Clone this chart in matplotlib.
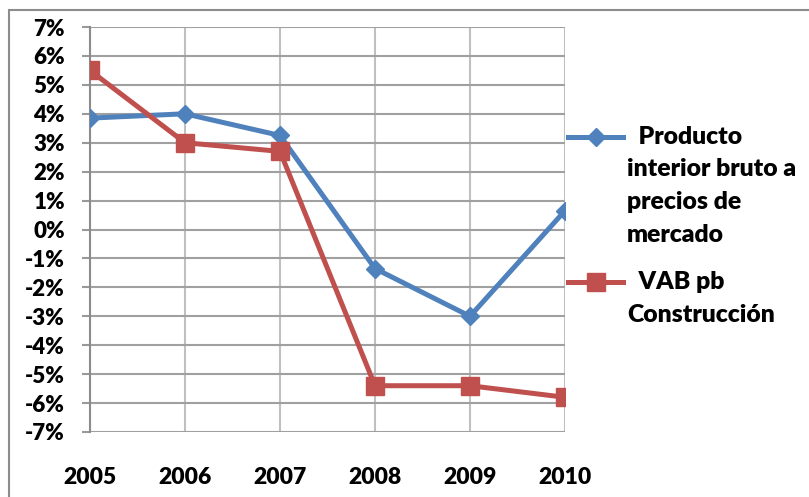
import numpy as np
import matplotlib
matplotlib.use('Agg')
import matplotlib.pyplot as plt
from matplotlib.lines import Line2D
from matplotlib.patches import Rectangle

# yearly growth rates (%)
years = ['2005', '2006', '2007', '2008', '2009', '2010']
pib = [3.85, 4.0, 3.25, -1.35, -3.0, 0.65]
vab_construccion = [5.5, 3.0, 2.7, -5.4, -5.4, -5.8]
yticks = list(range(-7, 8))

blue = '#4F81BD'
red = '#C0504D'
font = 'Lato'
weight = 'heavy'

W, H = 809, 497
fig = plt.figure(figsize=(W / 100, H / 100), dpi=100)
ax = fig.add_axes([90 / W, 1 - 432 / H, 475 / W, 405 / H])

x = np.arange(len(years))
ax.plot(x, pib, color=blue, lw=3.6, marker='D', ms=9, zorder=3)
ax.plot(x, vab_construccion, color=red, lw=3.6, marker='s', ms=13.5, zorder=3)

ax.set_xlim(0, len(years) - 1)
ax.set_ylim(-7, 7)
ax.set_yticks(yticks)
ax.set_yticklabels(['%d%%' % v for v in yticks], fontfamily=font,
                   fontweight=weight, fontsize=16)
ax.set_xticks(x)
ax.set_xticklabels(years, fontfamily=font, fontweight=weight, fontsize=16.5)
ax.tick_params(axis='y', direction='out', length=6, width=1.5,
               color='#999999', pad=12)
ax.tick_params(axis='x', length=0, pad=25)

ax.grid(axis='y', color='#a0a0a0', lw=1.5)
ax.grid(axis='x', color='#c0c0c0', lw=1.5)
ax.set_axisbelow(True)
for s in ['top', 'right', 'bottom']:
    ax.spines[s].set_visible(False)
ax.spines['left'].set_color('#8c8c8c')
ax.spines['left'].set_linewidth(1.5)

# outer chart border
fig.add_artist(Rectangle((9 / W, -0.1), 1.2, 1 - 10 / H + 0.1,
                         transform=fig.transFigure, fill=False,
                         edgecolor='#8c8c8c', lw=1.5))

# legend
def px(xp, yp):
    return xp / W, 1 - yp / H

entries = [
    (blue, 'D', 9, 137, ['  Producto', 'interior bruto a', 'precios de', 'mercado']),
    (red, 's', 13.5, 282, ['  VAB pb', 'Construcción']),
]
for color, mk, ms, ypos, lines in entries:
    x0, y0 = px(568, ypos)
    x1, _ = px(623, ypos)
    fig.add_artist(Line2D([x0, x1], [y0, y0], color=color, lw=3.6,
                          transform=fig.transFigure))
    fig.add_artist(Line2D([(x0 + x1) / 2], [y0], color=color, marker=mk,
                          ms=ms, transform=fig.transFigure))
    for i, txt in enumerate(lines):
        tx, ty = px(627, ypos + i * 32.5)
        fig.text(tx, ty, txt, fontfamily=font, fontweight=weight,
                 fontsize=17.8, va='center', ha='left')

fig.savefig('out.png', dpi=100)
